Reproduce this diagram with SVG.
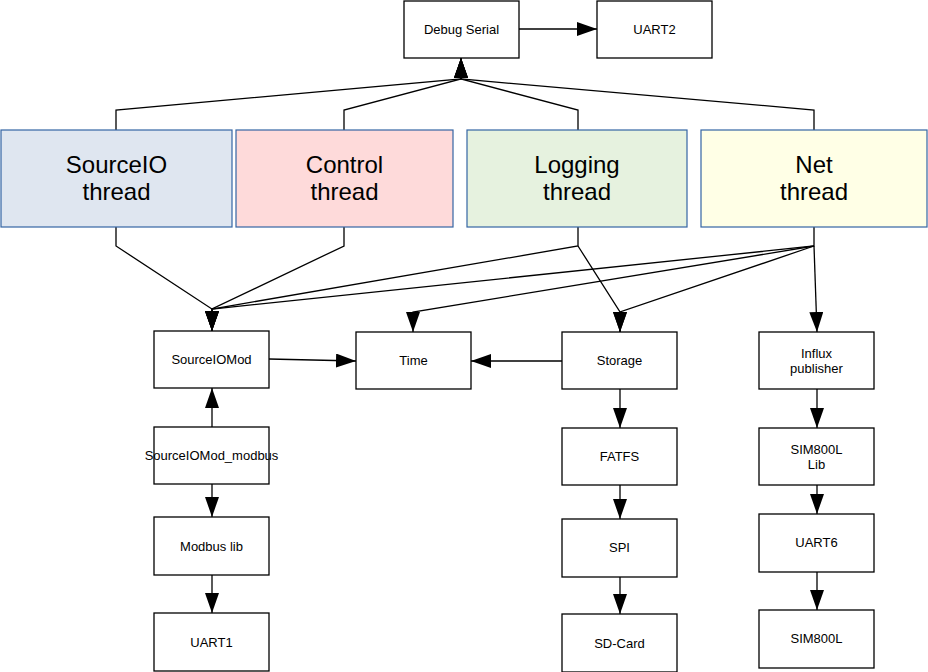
<svg xmlns="http://www.w3.org/2000/svg" width="928" height="672" viewBox="0 0 928 672">
<style>
.box{fill:#ffffff;stroke:#000000;stroke-width:1.3}
.thr{stroke:#3465a4;stroke-width:1.2}
.t{font-family:"Liberation Sans",Arial,sans-serif;font-size:13px;fill:#000;text-anchor:middle}
.big{font-family:"Liberation Sans",Arial,sans-serif;font-size:24px;fill:#000;text-anchor:middle}
.c{fill:none;stroke:#000;stroke-width:1.3}
</style>
<defs>
<marker id="ah" viewBox="0 0 20 14" refX="20" refY="7" markerWidth="20" markerHeight="14" markerUnits="userSpaceOnUse" orient="auto">
<path d="M0,0 L20,7 L0,14 z" fill="#000"/>
</marker>
</defs>
<g id="connectors">
<path class="c" d="M519,29 L597,29" marker-end="url(#ah)"/>
<polyline class="c" points="116,130 116,110 461,79 461,58" marker-end="url(#ah)"/>
<polyline class="c" points="344,130 344,110 461,79 461,58" marker-end="url(#ah)"/>
<polyline class="c" points="578,130 578,110 461,79 461,58" marker-end="url(#ah)"/>
<polyline class="c" points="814,130 814,110 461,79 461,58" marker-end="url(#ah)"/>
<polyline class="c" points="116,227 116,246 212,309 212,331" marker-end="url(#ah)"/>
<polyline class="c" points="344,227 344,246 212,309 212,331" marker-end="url(#ah)"/>
<polyline class="c" points="578,227 578,246 212,309 212,331" marker-end="url(#ah)"/>
<polyline class="c" points="578,246 620,312 620,332" marker-end="url(#ah)"/>
<polyline class="c" points="814,227 814,246 212,309 212,331" marker-end="url(#ah)"/>
<polyline class="c" points="814,246 413,312 413,332" marker-end="url(#ah)"/>
<polyline class="c" points="814,246 620,312 620,332" marker-end="url(#ah)"/>
<polyline class="c" points="814,246 817,332" marker-end="url(#ah)"/>
<path class="c" d="M269,359 L356,361" marker-end="url(#ah)"/>
<path class="c" d="M562,361 L471,361" marker-end="url(#ah)"/>
<path class="c" d="M212,427 L212,388" marker-end="url(#ah)"/>
<path class="c" d="M212,484 L212,517" marker-end="url(#ah)"/>
<path class="c" d="M212,575 L212,613" marker-end="url(#ah)"/>
<path class="c" d="M620,389 L620,428" marker-end="url(#ah)"/>
<path class="c" d="M620,485 L620,519" marker-end="url(#ah)"/>
<path class="c" d="M620,577 L620,614" marker-end="url(#ah)"/>
<path class="c" d="M817,389 L817,428" marker-end="url(#ah)"/>
<path class="c" d="M817,485 L817,514" marker-end="url(#ah)"/>
<path class="c" d="M817,572 L817,610" marker-end="url(#ah)"/>
</g>
<g id="debug-serial"><rect class="box" x="404" y="1" width="115" height="57"/><text class="t" x="461.5" y="34">Debug Serial</text></g>
<g id="uart2"><rect class="box" x="597" y="1" width="115" height="57"/><text class="t" x="654.5" y="34">UART2</text></g>
<g id="sourceio-thread"><rect class="thr" x="1" y="130" width="231" height="97" fill="#dfe6f0"/><text class="big" x="116.5" y="173">SourceIO</text><text class="big" x="116.5" y="200">thread</text></g>
<g id="control-thread"><rect class="thr" x="236" y="130" width="217" height="97" fill="#fedada"/><text class="big" x="344.5" y="173">Control</text><text class="big" x="344.5" y="200">thread</text></g>
<g id="logging-thread"><rect class="thr" x="467" y="130" width="220" height="97" fill="#e6f2df"/><text class="big" x="577" y="173">Logging</text><text class="big" x="577" y="200">thread</text></g>
<g id="net-thread"><rect class="thr" x="701" y="130" width="226" height="97" fill="#ffffe6"/><text class="big" x="814" y="173">Net</text><text class="big" x="814" y="200">thread</text></g>
<g id="sourceiomod"><rect class="box" x="154" y="331" width="115" height="57"/><text class="t" x="211.5" y="364">SourceIOMod</text></g>
<g id="time"><rect class="box" x="356" y="332" width="115" height="57"/><text class="t" x="413.5" y="365">Time</text></g>
<g id="storage"><rect class="box" x="562" y="332" width="115" height="57"/><text class="t" x="619.5" y="365">Storage</text></g>
<g id="influx-publisher"><rect class="box" x="759" y="332" width="115" height="57"/><text class="t" x="816.5" y="358">Influx</text><text class="t" x="816.5" y="373">publisher</text></g>
<g id="sourceiomod-modbus"><rect class="box" x="154" y="427" width="115" height="57"/><text class="t" x="211.5" y="460">SourceIOMod_modbus</text></g>
<g id="modbus-lib"><rect class="box" x="154" y="517" width="115" height="58"/><text class="t" x="211.5" y="551">Modbus lib</text></g>
<g id="uart1"><rect class="box" x="154" y="613" width="115" height="58"/><text class="t" x="211.5" y="647">UART1</text></g>
<g id="fatfs"><rect class="box" x="562" y="428" width="115" height="57"/><text class="t" x="619.5" y="461">FATFS</text></g>
<g id="spi"><rect class="box" x="562" y="519" width="115" height="58"/><text class="t" x="619.5" y="552">SPI</text></g>
<g id="sd-card"><rect class="box" x="562" y="614" width="115" height="58"/><text class="t" x="619.5" y="648">SD-Card</text></g>
<g id="sim800l-lib"><rect class="box" x="759" y="428" width="115" height="57"/><text class="t" x="816.5" y="454">SIM800L</text><text class="t" x="816.5" y="469">Lib</text></g>
<g id="uart6"><rect class="box" x="759" y="514" width="115" height="58"/><text class="t" x="816.5" y="547">UART6</text></g>
<g id="sim800l"><rect class="box" x="759" y="610" width="115" height="58"/><text class="t" x="816.5" y="643">SIM800L</text></g>
</svg>
